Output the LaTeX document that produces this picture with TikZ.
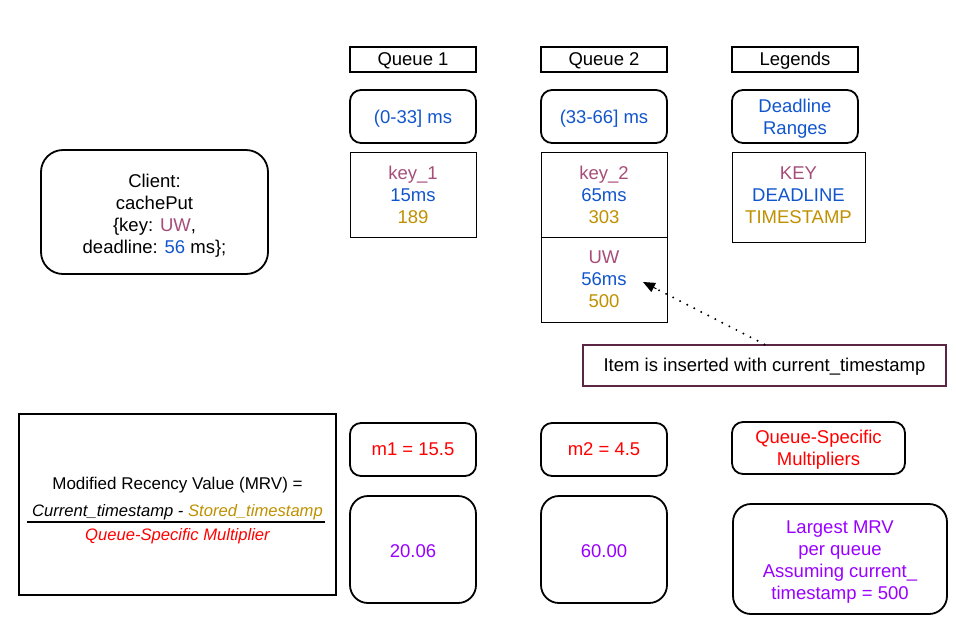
\documentclass[tikz,border=0pt]{standalone}
\usepackage{fontspec}
\setmainfont{Liberation Sans}
\usetikzlibrary{arrows.meta,calc}
\definecolor{keyc}{HTML}{A64D79}
\definecolor{dlc}{HTML}{1155CC}
\definecolor{tsc}{HTML}{BF9000}
\definecolor{mrvc}{HTML}{9900FF}
\definecolor{notec}{HTML}{5B2643}
\tikzset{
  txt/.style={font=\fontsize{18.5}{22}\selectfont, align=center, inner sep=0pt},
  ftxt/.style={txt, font=\fontsize{16.8}{20}\selectfont},
  header/.style={draw, line width=1.6pt, minimum width=126pt, minimum height=25pt, inner sep=0pt},
  rbox/.style={draw, line width=1.8pt, rounded corners=11pt, inner sep=0pt},
  cell/.style={txt, draw, line width=1pt, minimum width=126pt, minimum height=85pt},
  dots/.style={line width=2.2pt, line cap=round, dash pattern=on 0pt off 7.9pt},
}
\begin{document}
\begin{tikzpicture}[x=1pt,y=-1pt]
\useasboundingbox (0,0) rectangle (956,641);

% column headers
\node[header] (q1h) at (413,59.5) {};
\node[header] (q2h) at (604,59.5) {};
\node[header] (lgh) at (795,59.5) {};
\node[txt] (q1ht) at ([yshift=-1.5pt]q1h.center) {Queue 1};
\node[txt] (q2ht) at ([yshift=-1.5pt]q2h.center) {Queue 2};
\node[txt] (lght) at ([yshift=-1.5pt]lgh.center) {Legends};

% deadline ranges
\node[rbox, minimum width=126pt, minimum height=53pt] (q1r) at (413,116.5) {};
\node[rbox, minimum width=126pt, minimum height=53pt] (q2r) at (604,116.5) {};
\node[rbox, minimum width=126pt, minimum height=53pt] (lgr) at (795,116.5) {};
\node[txt, text=dlc] (q1rt) at ([yshift=-2.5pt]q1r.center) {(0-33] ms};
\node[txt, text=dlc] (q2rt) at ([yshift=-2.5pt]q2r.center) {(33-66] ms};
\node[txt, text=dlc] (lgrt) at ([yshift=-2pt]lgr.center) {Deadline\\Ranges};

% queue entries
\node[cell] (k1) at (413,194.5) {\textcolor{keyc}{key\_1}\\\textcolor{dlc}{15ms}\\\textcolor{tsc}{189}};
\node[cell] (k2) at (604,194.5) {\textcolor{keyc}{key\_2}\\\textcolor{dlc}{65ms}\\\textcolor{tsc}{303}};
\node[cell] (uw) at (604,279.5) {\textcolor{keyc}{UW}\\\textcolor{dlc}{56ms}\\\textcolor{tsc}{500}};
\node[draw, line width=1pt, minimum width=133pt, minimum height=90pt] (lgk) at (798.5,197) {};
\node[txt] (lgkt) at ([yshift=1.5pt]lgk.center) {\textcolor{keyc}{KEY}\\\textcolor{dlc}{DEADLINE}\\\textcolor{tsc}{TIMESTAMP}};

% client request
\node[rbox, minimum width=227pt, minimum height=124pt, rounded corners=22pt] (client) at (154.5,212) {};
\node[txt] (clientt) at ([yshift=-3.5pt]client.center)
  {Client:\\cachePut\\\{key: \textcolor{keyc}{UW},\\deadline: \textcolor{dlc}{56} ms\};};

% insertion note
\node[draw=notec, line width=1.2pt, minimum width=363pt, minimum height=41pt] (note) at (764.5,365.5) {};
\node[txt] (notet) at ([yshift=-1.5pt]note.center) {Item is inserted with current\_timestamp};
\coordinate (uwin) at (643,282);
\draw[dots] (note.north) -- ($(uwin)!0.12!(note.north)$);
\draw[line width=1pt, -{Triangle[length=12pt,width=10pt]}] ($(uwin)!0.11!(note.north)$) -- (uwin);

% multipliers
\node[rbox, minimum width=126pt, minimum height=53pt] (m1) at (413,449.5) {};
\node[rbox, minimum width=126pt, minimum height=53pt] (m2) at (604,449.5) {};
\node[rbox, minimum width=173pt, minimum height=52pt] (lgm) at (818.5,448) {};
\node[txt, text=red] (m1t) at (m1.center) {m1 = 15.5};
\node[txt, text=red] (m2t) at (m2.center) {m2 = 4.5};
\node[txt, text=red] (lgmt) at ([yshift=-1.5pt]lgm.center) {Queue-Specific\\Multipliers};

% largest MRV per queue
\node[rbox, minimum width=126pt, minimum height=107pt, rounded corners=18pt] (v1) at (413,549.5) {};
\node[rbox, minimum width=126pt, minimum height=107pt, rounded corners=18pt] (v2) at (604,549.5) {};
\node[rbox, minimum width=214pt, minimum height=110pt, rounded corners=18pt] (lgv) at (840,559) {};
\node[txt, text=mrvc] (v1t) at ([yshift=-2pt]v1.center) {20.06};
\node[txt, text=mrvc] (v2t) at ([yshift=-2pt]v2.center) {60.00};
\node[txt, text=mrvc] (lgvt) at ([yshift=-3.5pt]lgv.center)
  {Largest MRV\\per queue\\Assuming current\_\\timestamp = 500};

% MRV formula
\node[draw, line width=1.6pt, minimum width=317pt, minimum height=181pt, inner sep=0pt] (mrv) at (177.5,504.5) {};
\node[txt, font=\fontsize{17}{20}\selectfont] (mrvt) at (177.5,485) {Modified Recency Value (MRV) =};
\node[ftxt, font=\fontsize{16.6}{20}\selectfont\itshape] (num) at (177.5,512)
  {Current\_timestamp - \textcolor{tsc}{Stored\_timestamp}};
\node[ftxt, font=\fontsize{16.6}{20}\selectfont\itshape, text=red] (den) at (177.5,536) {Queue-Specific Multiplier};
\draw[line width=2pt] (27,522) -- (325,522);
\end{tikzpicture}
\end{document}
